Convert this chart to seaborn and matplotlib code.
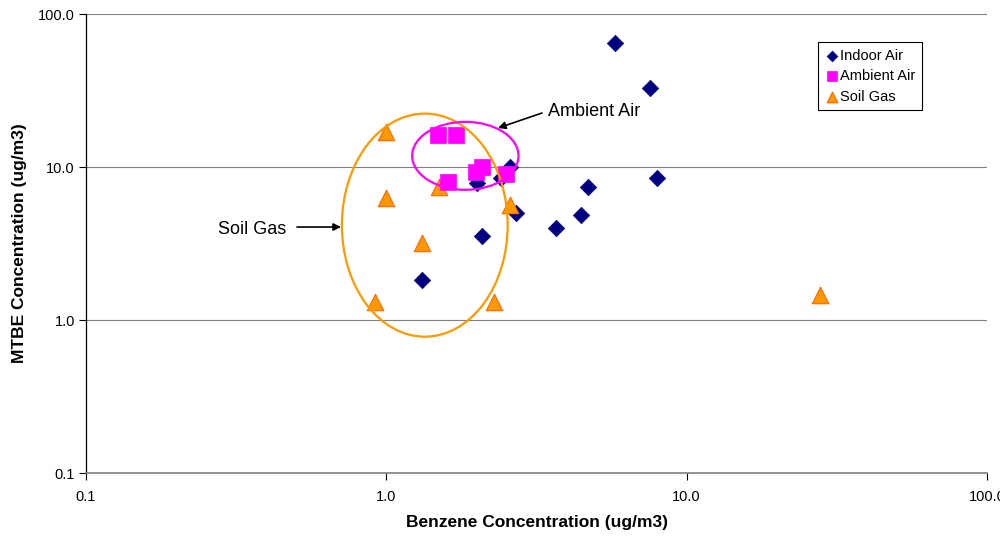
import matplotlib
matplotlib.use("Agg")
import matplotlib.pyplot as plt
from matplotlib.patches import Ellipse
import seaborn as sns
import pandas as pd

# Data (ug/m3)
indoor_benzene = [5.78, 7.55, 7.98, 4.70, 4.46, 3.68, 2.71, 2.59, 2.40, 2.01, 2.09, 1.31]
indoor_mtbe    = [64.7, 32.8, 8.47, 7.40, 4.86, 4.00, 5.00, 10.0, 8.47, 7.86, 3.54, 1.83]

ambient_benzene = [1.49, 1.70, 2.09, 1.99, 2.51, 1.60]
ambient_mtbe    = [16.2, 16.2, 10.0, 9.27, 9.00, 7.98]

soil_benzene = [1.00, 1.00, 1.50, 2.59, 1.31, 0.92, 2.29, 27.8]
soil_mtbe    = [16.9, 6.27, 7.40, 5.65, 3.19, 1.31, 1.31, 1.46]

x_ticks = [0.1, 1.0, 10.0, 100.0]
y_ticks = [0.1, 1.0, 10.0, 100.0]
tick_labels = ["0.1", "1.0", "10.0", "100.0"]

sns.set_theme(style="white")
plt.rcParams['font.family'] = ['Liberation Sans', 'DejaVu Sans']
plt.rcParams['text.color'] = 'black'
plt.rcParams['axes.labelcolor'] = 'black'
plt.rcParams['xtick.color'] = 'black'
plt.rcParams['ytick.color'] = 'black'

fig = plt.figure(figsize=(10, 5.39), dpi=100)
ax = fig.add_axes([0.086, 0.1224, 0.901, 0.8516])

df_in = pd.DataFrame({"x": indoor_benzene, "y": indoor_mtbe})
df_am = pd.DataFrame({"x": ambient_benzene, "y": ambient_mtbe})
df_sg = pd.DataFrame({"x": soil_benzene, "y": soil_mtbe})

ax.set_xscale("log")
ax.set_yscale("log")

sns.scatterplot(data=df_in, x="x", y="y", ax=ax, marker="D", s=70, color="#000080",
                edgecolor="#000080", linewidth=0.5, label="Indoor Air", zorder=3)
sns.scatterplot(data=df_sg, x="x", y="y", ax=ax, marker="^", s=140, color="#FF9900",
                edgecolor="#FF6600", linewidth=0.8, label="Soil Gas", zorder=4)
sns.scatterplot(data=df_am, x="x", y="y", ax=ax, marker="s", s=125, color="#FF00FF",
                edgecolor="#FF00FF", linewidth=0.5, label="Ambient Air", zorder=5)

ax.set_xlim(0.1, 100)
ax.set_ylim(0.1, 100)
ax.set_xticks(x_ticks)
ax.set_xticklabels(tick_labels)
ax.set_yticks(y_ticks)
ax.set_yticklabels(tick_labels)
ax.minorticks_off()
ax.tick_params(axis="both", which="major", labelsize=10.5, colors="black", length=5,
               width=0.8, direction="out", bottom=True, left=True)
ax.tick_params(axis="x", pad=7)
ax.tick_params(axis="y", pad=3)

ax.yaxis.grid(True, color="#808080", linewidth=0.8)
ax.xaxis.grid(False)
ax.set_axisbelow(True)

for side in ["top", "right"]:
    ax.spines[side].set_visible(False)
ax.spines["left"].set_color("black")
ax.spines["bottom"].set_color("#808080")
ax.spines["left"].set_linewidth(0.9)
ax.spines["bottom"].set_linewidth(1.2)

ax.set_xlabel("Benzene Concentration (ug/m3)", fontsize=12.5, fontweight="bold",
              labelpad=8, color="black")
ax.set_ylabel("MTBE Concentration (ug/m3)", fontsize=12.5, fontweight="bold",
              labelpad=8, color="black")

# Ellipses (annotation shapes, in axes fraction coordinates)
ax.add_patch(Ellipse((0.376, 0.540), 0.184, 0.486, transform=ax.transAxes,
                     fill=False, edgecolor="#FF9900", linewidth=1.6, zorder=6))
ax.add_patch(Ellipse((0.421, 0.691), 0.118, 0.148, transform=ax.transAxes,
                     fill=False, edgecolor="#FF00FF", linewidth=1.6, zorder=6))

# Callouts
ax.annotate("", xy=((498 - 86) / 901, (473 - 128) / 459), xycoords="axes fraction",
            xytext=((542 - 86) / 901, (473 - 113) / 459), textcoords="axes fraction",
            arrowprops=dict(arrowstyle="-|>", color="black", lw=1.2, mutation_scale=11,
                            shrinkA=0, shrinkB=0))
ax.text((548 - 86) / 901, (473 - 111) / 459, "Ambient Air", transform=ax.transAxes,
        fontsize=13, ha="left", va="center", color="black")
ax.annotate("", xy=((341 - 86) / 901, (473 - 227) / 459), xycoords="axes fraction",
            xytext=((297 - 86) / 901, (473 - 227) / 459), textcoords="axes fraction",
            arrowprops=dict(arrowstyle="-|>", color="black", lw=1.2, mutation_scale=11,
                            shrinkA=0, shrinkB=0))
ax.text((218 - 86) / 901, (473 - 229) / 459, "Soil Gas", transform=ax.transAxes,
        fontsize=13, ha="left", va="center", color="black")

handles, labels = ax.get_legend_handles_labels()
order = [labels.index(l) for l in ["Indoor Air", "Ambient Air", "Soil Gas"]]
leg = ax.legend([handles[i] for i in order], [labels[i] for i in order],
                loc="upper left", bbox_to_anchor=(0.812, 0.939), fontsize=10.5,
                frameon=True, fancybox=False, edgecolor="black", framealpha=1,
                handletextpad=0.0, handlelength=1.1, borderpad=0.45, labelspacing=0.45,
                borderaxespad=0, markerscale=0.65)
leg.get_frame().set_linewidth(0.8)
for t in leg.get_texts():
    t.set_color("black")

fig.savefig("out.png", dpi=100)
